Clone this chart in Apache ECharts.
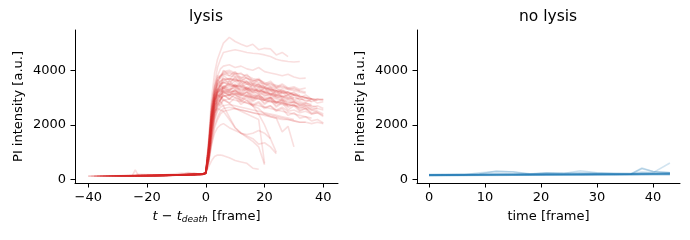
<!DOCTYPE html>
<html><head><meta charset="utf-8">
<script src="https://cdn.jsdelivr.net/npm/echarts@6/dist/echarts.min.js"></script>
<style>html,body{margin:0;padding:0;background:#fff}#c{width:690px;height:240px}</style>
</head><body><div id="c"></div>
<script>
// ---- data ----
const yTicks = [0, 2000, 4000];
const lysisXTicks = [-40, -20, 0, 20, 40];
const noLysisXTicks = [0, 10, 20, 30, 40];
// frames after death at which lysis traces are sampled
const postX = [0,1,2,3,4,5,6,8,10,12,14,16,18,20,22,24,26,28,30,32,34,36,38,40];
// pre-death baseline points [frame, intensity]
const lysisPre = [
 [[-22,150],[-12,165],[-1,210]],
 [[-35,135],[-18,155],[-1,200]],
 [[-28,145],[-14,160],[-1,205]],
 [[-40,130],[-25,145],[-10,165],[-1,200]],
 [[-19,155],[-9,170],[-1,215]],
 [[-38,130],[-20,150],[-1,195]],
 [[-33,140],[-24,150],[-23,200],[-12,165],[-1,210]],
 [[-30,140],[-15,160],[-1,205]],
 [[-26,145],[-10,170],[-6,260],[-4,180],[-1,215]],
 [[-36,135],[-18,150],[-1,190]],
 [[-24,150],[-12,160],[-1,200]],
 [[-31,140],[-25,150],[-24,360],[-23,155],[-10,170],[-1,210]],
 [[-21,150],[-10,165],[-1,205]],
 [[-37,135],[-20,150],[-1,195]],
 [[-29,140],[-15,160],[-1,210]],
 [[-27,145],[-12,165],[-1,200]],
 [[-34,135],[-17,155],[-8,240],[-6,175],[-1,205]],
 [[-16,155],[-8,170],[-1,215]],
 [[-32,140],[-16,155],[-1,200]],
 [[-25,145],[-12,160],[-1,205]],
 [[-39,130],[-20,150],[-1,190]],
 [[-23,150],[-11,165],[-1,210]],
 [[-30,140],[-14,160],[-1,200]],
 [[-35,135],[-18,155],[-1,195]],
 [[-20,150],[-10,165],[-1,205]],
 [[-28,145],[-13,160],[-1,210]],
 [[-33,140],[-16,155],[-1,200]],
 [[-26,145],[-12,165],[-1,205]],
 [[-18,155],[-9,170],[-1,210]],
 [[-31,140],[-15,160],[-1,200]],
 [[-24,145],[-12,160],[-4,250],[-2,190],[-1,205]],
 [[-37,135],[-19,150],[-1,195]],
 [[-22,150],[-11,165],[-1,210]],
 [[-29,140],[-14,158],[-1,200]],
 [[-27,145],[-13,160],[-1,205]],
 [[-38,130],[-20,150],[-1,195]],
 [[-25,145],[-12,160],[-1,205]],
 [[-34,135],[-17,155],[-1,200]],
 [[-21,150],[-10,165],[-1,210]],
 [[-40,130],[-22,148],[-1,195]],
 [[-17,155],[-8,170],[-1,210]],
 [[-29,140],[-14,160],[-1,205]],
 [[-36,135],[-18,150],[-1,195]],
 [[-23,150],[-11,162],[-1,205]],
 [[-32,140],[-16,155],[-1,200]]
];
// post-death intensities, one value per postX entry until the trace ends
const lysisPost = [
 [300,1500,3000,3900,4400,4700,4990,5200,5050,4950,4870,4950,4750,4800,4780,4560,4650,4500],
 [280,1300,2600,3500,4100,4400,4650,4700,4750,4700,4650,4620,4600,4560,4500,4400,4350,4320,4300,4320],
 [260,1200,2500,3300,3800,4050,4150,4200,4100,4150,4050,4000,4100,3950,3900,3850,3800,3850,3750,3700,3710],
 [250,1100,2300,3100,3600,3800,3900,3950,3850,3900,3700,3650,3550,3500,3400,3350,3250,3200,3100,3050,3000,2950,2950,2900],
 [270,1000,2200,3000,3500,3750,3850,3900,3800,3750,3700,3600,3650,3500,3450,3400,3350,3300,3250,3200,3160],
 [250,900,2000,2800,3200,3400,3550,3450,3600,3400,3500,3300,3400,3200,3300,3100,3200,3000,3100,2900,3000,2850,2950,2920],
 [240,1100,2300,3000,3300,3450,3550,3600,3650,3550,3500,3450,3400,3350,3250,3200,3150,3200,3100,3050,3000,2950,2900],
 [260,1000,2100,2800,3100,3300,3400,3500,3400,3450,3350,3300,3250,3200,3150,3100,3050,3100,3000,2950,2900,2850],
 [230,800,1800,2600,3000,3200,3350,3250,3400,3150,3300,3050,3150,2950,3000,2800,2900,2700,2750,2550,2600,2400,2450,2310],
 [250,1200,2400,3100,3400,3600,3700,3650,3700,3600,3550,3500,3450,3350,3300,3250,3200,3150,3100],
 [240,900,1900,2600,2900,3100,3150,3200,3250,3150,3200,3100,3050,3000,3000,2950,2900,2850,2800,2750,2700,2700,2650],
 [220,800,1700,2400,2700,2900,3100,2950,3100,2850,3000,2750,2850,2650,2700,2500,2600,2350,2450,2250,2300,2150,2200,2070],
 [260,1300,2600,3200,3500,3600,3650,3700,3600,3650,3500,3450,3400,3350,3300,3250,3200],
 [250,1000,2000,2700,3000,3150,3250,3300,3350,3300,3250,3200,3150,3100,3050,3000,2950,2900,2850,2800,2750],
 [240,900,2000,2800,3200,3500,3600,3700,3650,3600,3550,3500,3450,3400,3300,3250,3200,3150,3100,3050,3000,2950,2900,2950],
 [250,1100,2300,2900,3200,3350,3400,3450,3400,3350,3300,3250,3200,3150,3100,3050],
 [230,700,1500,2200,2600,2800,2900,2950,2900,2850,2800,2750,2700,2650,2600,2550,2500,2450,2400,2350,2300,2250],
 [260,1400,2800,3400,3700,3800,3850,3800,3750,3700,3600,3550,3500,3400,3350,3300,3250,3200,3150,3100],
 [230,700,1600,2300,2700,2900,3100,2950,3150,2900,3050,2850,3000,2750,2900,2650,2800,2550,2700,2500,2600,2450,2500,2400],
 [240,900,1900,2500,2800,2950,3050,3100,3150,3100,3050,3000,2950,2900,2850,2800,2750,2700],
 [250,1000,2100,2900,3300,3500,3550,3500,3450,3400,3350,3300,3250,3200,3100,3050,3000,2950,2900,2850,2800,2750],
 [260,1100,2200,2900,3200,3300,3350,3400,3450,3400,3300,3250,3300,3200,3150,3100,3050,3000,2950],
 [240,800,1800,2500,2900,3100,3200,3250,3200,3150,3100,3050,3000,2950,2900,2850,2800,2750,2700,2650,2600,2550,2500],
 [250,1200,2500,3200,3600,3800,3950,4000,3900,3850,3800,3700,3650,3550,3500,3450,3400,3350,3300,3250,3200],
 [230,800,1700,2400,2800,2950,3050,3100,3150,3100,3050,3000,2950,2900,2850,2850,2800,2750,2700,2700,2650,2600,2600,2550],
 [220,600,1300,1900,2200,2400,2500,2550,2600,2550,2500,2450,2400,2350,2300,2250,2200,2200,2150,2100,2100],
 [230,700,1400,2000,2300,2500,2600,2650,2600,2550,2500,2450,2400,2400,2350,2300,2250,2200,2150,2100,2100,2050,2100,2050],
 [240,800,1600,2200,2500,2650,2700,2750,2700,2650,2600,2550,2500,2450,2400,2350,2300,2250,2200],
 [250,1000,2000,2500,2600,2550,2500,2200,1900,1700,1550,1400,1200,550],
 [250,1000,2100,2700,2900,2850,2700,2300,1900,1700,1600,1500,1300,1350,1200,950],
 [260,1200,2400,3000,3200,3250,3200,3100,3000,2900,2800,2700,2600,2400,2300,2250,1750,1950,1200],
 [250,1100,2300,2900,3100,3050,2900,2800,2600,2500,2400,2300,2200,600],
 [260,1300,2500,3100,3300,3300,3250,3200,3100,3000,2900,2700,2400,2000,1500,1000],
 [240,700,1300,1700,1900,2000,2050,1900,1800,1700,1650,1700,1800,1700,1500],
 [250,480,700,850,900,900,880,800,700,650,600,420,380],
 [240,1000,2200,2900,3300,3450,3300,3600,3400,3550,3300,3450,3200,3350,3100,3250,3000,3100,2900,3000,2850,2950,2800,2850],
 [250,1100,2400,3100,3500,3400,3700,3500,3750,3450,3600,3350,3500,3250,3400,3150,3300,3100,3200,3000,3100,2950],
 [230,800,1800,2600,3000,2900,3200,3050,3250,2950,3100,2900,3050,2800,2950,2700,2850,2650,2750,2600,2700,2550,2600],
 [260,1200,2500,3200,3650,3500,3800,3650,3900,3600,3750,3500,3650,3400,3550,3350,3450,3300,3350,3250],
 [240,900,2000,2800,3100,3000,3350,3150,3300,3100,3200,2950,3100,2900,3000,2800,2900,2750,2850,2700,2750,2650,2700,2600],
 [250,1100,2300,3000,3300,3200,3450,3300,3500,3250,3400,3200,3350,3150,3250,3050,3150],
 [260,1300,2700,3400,3800,3700,4000,3800,3950,3700,3850,3600,3700,3500,3600,3400,3500,3350,3400,3300,3350],
 [230,700,1600,2400,2800,2700,2950,2800,3000,2750,2900,2700,2800,2600,2700,2550,2650,2500,2550,2450,2500,2400,2450,2350],
 [250,1000,2200,2900,3200,3100,3400,3250,3450,3200,3350,3150,3250,3050,3150,3000,3050,2950,3000],
 [240,900,2000,2700,3100,3000,3250,3100,3300,3050,3200,3000,3100,2900,3000,2850,2950,2800,2850,2750,2800,2700]
];
// no-lysis traces sampled at these frames
const noLysisX = [0,3,6,9,12,15,18,21,24,27,30,33,36,38,40,43];
const noLysisY = [
 [160,160,165,165,170,170,170,175,175,180,180,180,185,190,190,195],
 [170,170,175,175,180,180,185,185,190,190,195,195,200,205,210,215],
 [180,180,185,190,190,195,195,200,200,205,205,210,210,215,220,225],
 [150,155,155,160,160,165,165,170,170,170,175,175,180,180,185,185],
 [175,178,182,185,190,192,195,198,200,205,208,210,215,230,225,230],
 [165,168,170,250,300,290,220,230,210,230,215,210,200,240,230,250],
 [170,172,175,210,320,280,200,240,230,330,250,220,210,400,300,260],
 [180,185,190,200,230,220,210,250,240,260,250,240,230,280,260,610],
 [160,162,165,168,170,172,175,178,180,182,185,188,200,427,300,250],
 [190,190,195,195,200,200,205,205,210,210,215,215,220,220,225,230],
 [155,158,160,162,165,168,170,172,175,178,180,182,185,188,190,192],
 [185,186,188,190,195,198,200,205,205,210,212,215,218,220,222,225],
 [165,166,168,170,172,175,178,180,182,185,188,190,192,195,198,200],
 [175,176,178,180,182,185,188,190,192,195,198,200,202,205,208,210]
];

// ---- chart ----
const FONT = 'DejaVu Sans';
const fmt = v => String(v).replace('-', '\u2212');
function xAx(grid, min, max, ticks, name, nameGap, rich) {
  return {
    type: 'value', gridIndex: grid, min, max,
    name, nameLocation: 'middle', nameGap,
    nameTextStyle: { color: '#000', fontSize: 13, fontFamily: FONT, rich },
    axisLine: { show: true, onZero: false, lineStyle: { color: '#000', width: 1 } },
    axisTick: { show: true, length: 4.5, customValues: ticks, lineStyle: { color: '#000', width: 1 } },
    axisLabel: { customValues: ticks, color: '#000', fontSize: 13, fontFamily: FONT, margin: 8, formatter: fmt },
    splitLine: { show: false }
  };
}
function yAx(grid) {
  return {
    type: 'value', gridIndex: grid, min: -120, max: 5470,
    name: 'PI intensity [a.u.]', nameLocation: 'middle', nameGap: 50, nameRotate: 90,
    nameTextStyle: { color: '#000', fontSize: 13, fontFamily: FONT },
    axisLine: { show: true, onZero: false, lineStyle: { color: '#000', width: 1 } },
    axisTick: { show: true, length: 4.5, customValues: yTicks, lineStyle: { color: '#000', width: 1 } },
    axisLabel: { customValues: yTicks, color: '#000', fontSize: 13, fontFamily: FONT, margin: 9, formatter: fmt },
    splitLine: { show: false }
  };
}
const series = [];
lysisPost.forEach((v, i) => {
  series.push({
    type: 'line', xAxisIndex: 0, yAxisIndex: 0, symbol: 'none', silent: true,
    data: lysisPre[i].concat(v.map((y, k) => [postX[k], y])),
    lineStyle: { color: '#d62728', width: 1.6, opacity: 0.15 }
  });
});
noLysisY.forEach(v => {
  series.push({
    type: 'line', xAxisIndex: 1, yAxisIndex: 1, symbol: 'none', silent: true,
    data: v.map((y, k) => [noLysisX[k], y]),
    lineStyle: { color: '#1f77b4', width: 1.6, opacity: 0.2 }
  });
});
const chart = echarts.init(document.getElementById('c'), null, { renderer: 'canvas' });
chart.setOption({
  animation: false,
  backgroundColor: '#fff',
  grid: [
    { left: 75, top: 30, width: 263, height: 153 },
    { left: 417, top: 30, width: 263, height: 153 }
  ],
  xAxis: [
    xAx(0, -44.5, 45, lysisXTicks, '{i|t} \u2212 {i|t}{s|death} [frame]', 27,
      { i: { fontStyle: 'italic', fontSize: 13, fontFamily: FONT, color: '#000' },
        s: { fontStyle: 'italic', fontSize: 9, fontFamily: FONT, color: '#000', verticalAlign: 'bottom', padding: [5, 0, 0, 0] } }),
    xAx(1, -2.15, 44.8, noLysisXTicks, 'time [frame]', 27)
  ],
  yAxis: [yAx(0), yAx(1)],
  graphic: [
    { type: 'text', x: 206, y: 17, style: { text: 'lysis', fontSize: 15.5, fontFamily: FONT, fill: '#000', textAlign: 'center', textVerticalAlign: 'middle' } },
    { type: 'text', x: 548, y: 17, style: { text: 'no lysis', fontSize: 15.5, fontFamily: FONT, fill: '#000', textAlign: 'center', textVerticalAlign: 'middle' } }
  ],
  series
});
</script></body></html>
